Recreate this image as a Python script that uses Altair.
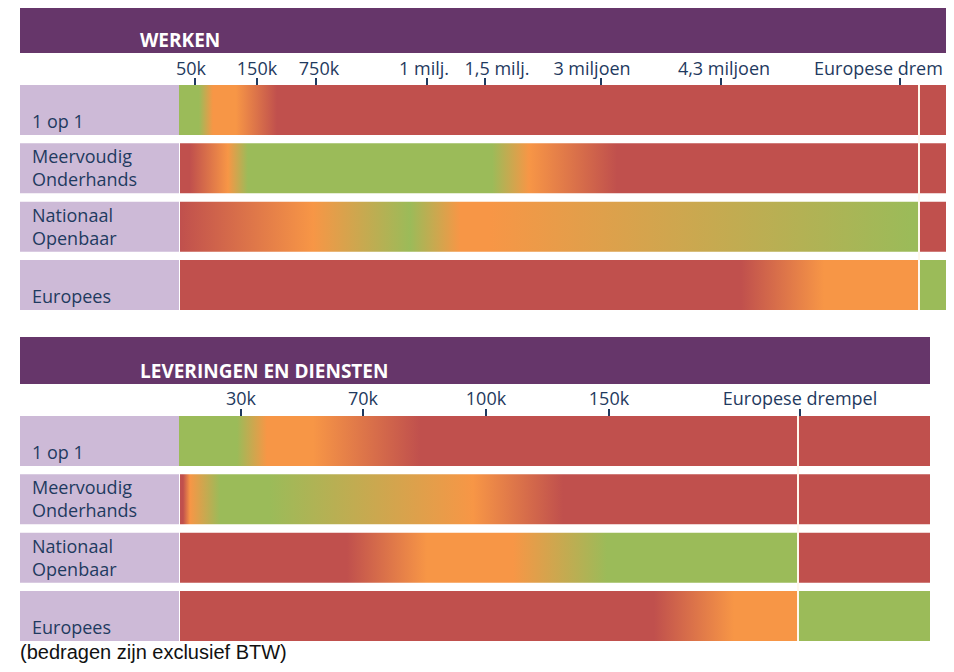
import altair as alt
import pandas as pd

# ---------------- data ----------------
ROWS = ["1 op 1", "Meervoudig Onderhands", "Nationaal Openbaar", "Europees"]
ROW_TEXT = ["\n1 op 1", "Meervoudig\nOnderhands", "Nationaal\nOpenbaar", "\nEuropees"]

RED, ORANGE, GREEN = "#C0504D", "#F79646", "#9BBB59"

# WERKEN panel (positions along the panel's position scale)
werken_title = "WERKEN"
werken_extent = [20, 179, 946]          # panel start, bar start, visible bar end
werken_ticks = [195, 257, 316, 427, 485, 601, 721, 900]
werken_tick_labels = ["50k", "150k", "750k", "1 milj.", "1,5 milj.",
                      "3 miljoen", "4,3 miljoen", "Europese drempel"]
werken_label_at = [191, 257, 319, 424, 497, 592, 724, 814]
werken_label_anchor = ["center"] * 7 + ["left"]
werken_threshold = 919
werken_pos = [
    [179, 199, 213, 236, 277, 946],
    [180, 190, 228, 248, 492, 529, 617, 946],
    [180, 313, 410, 460, 490, 913, 918, 918, 946],
    [180, 741, 824, 918, 918, 946],
]
werken_col = [
    [GREEN, GREEN, ORANGE, ORANGE, RED, RED],
    [RED, RED, ORANGE, GREEN, GREEN, ORANGE, RED, RED],
    [RED, ORANGE, GREEN, ORANGE, ORANGE, GREEN, GREEN, RED, RED],
    [RED, RED, ORANGE, ORANGE, GREEN, GREEN],
]

# LEVERINGEN EN DIENSTEN panel
ld_title = "LEVERINGEN EN DIENSTEN"
ld_extent = [20, 179, 930]
ld_ticks = [241, 363, 486, 609, 800]
ld_tick_labels = ["30k", "70k", "100k", "150k", "Europese drempel"]
ld_label_at = [241, 363, 486, 609, 800]
ld_label_anchor = ["center"] * 5
ld_threshold = 798
ld_pos = [
    [179, 237, 267, 313, 420, 930],
    [180, 183, 190, 220, 270, 473, 563, 930],
    [180, 347, 427, 513, 607, 798, 798, 930],
    [180, 654, 734, 798, 798, 930],
]
ld_col = [
    [GREEN, GREEN, ORANGE, ORANGE, RED, RED],
    [RED, RED, ORANGE, GREEN, GREEN, ORANGE, RED, RED],
    [RED, RED, ORANGE, ORANGE, GREEN, GREEN, RED, RED],
    [RED, RED, ORANGE, ORANGE, GREEN, GREEN],
]

footnote = "(bedragen zijn exclusief BTW)"

# ---------------- styles ----------------
PURPLE = "#66366A"
LILAC = "#CDBAD7"
NAVY = "#1F3A60"
FONT = "Open Sans"


def panel(title, extent, ticks, tick_labels, label_at, label_anchor, threshold,
          pos, col, width, header_top, tick_label_y, note=None):
    start, bar_start, end = extent
    xs = alt.Scale(domain=[start, end], nice=False, zero=False)
    ys = alt.Scale(domain=ROWS, paddingInner=0.1429, paddingOuter=0)
    X = lambda f: alt.X(f"{f}:Q", scale=xs, axis=None)
    Y = alt.Y("row:N", scale=ys, axis=None)

    head_df = pd.DataFrame({"x": [start], "x2": [end], "t": [title]})
    header = alt.Chart(head_df).mark_rect(color=PURPLE).encode(
        x=X("x"), x2="x2", y=alt.value(header_top), y2=alt.value(-32))
    header_txt = alt.Chart(head_df).mark_text(
        align="left", baseline="alphabetic", font=FONT, fontWeight="bold",
        fontSize=19, color="white").encode(
        x=alt.value(120), y=alt.value(-38), text="t:N")

    tick_df = pd.DataFrame({"x": ticks})
    tick_marks = alt.Chart(tick_df).mark_rule(color=NAVY, strokeWidth=2).encode(
        x=X("x"), y=alt.value(-7), y2=alt.value(0))

    layers = [header, header_txt, tick_marks]
    lab_df = pd.DataFrame({"x": label_at, "t": tick_labels, "a": label_anchor})
    for anchor in ["center", "left"]:
        sub = lab_df[lab_df["a"] == anchor]
        if len(sub) == 0:
            continue
        layers.append(alt.Chart(sub).mark_text(
            align=anchor, baseline="alphabetic", font=FONT, fontSize=18,
            color=NAVY, limit=(width + start - sub["x"].max()) if anchor == "left" else 0,
            ellipsis="\u200b").encode(
            x=X("x"), y=alt.value(tick_label_y), text="t:N"))

    box_df = pd.DataFrame({"row": ROWS, "x": [start] * 4, "x2": [bar_start] * 4,
                           "t": ROW_TEXT})
    boxes = alt.Chart(box_df).mark_rect(color=LILAC).encode(x=X("x"), x2="x2", y=Y)
    box_txt = alt.Chart(box_df).mark_text(
        align="left", baseline="alphabetic", dx=12, dy=-5, font=FONT, fontSize=18,
        color=NAVY, lineBreak="\n", lineHeight=23).encode(
        x=X("x"), y=Y, text="t:N")
    layers += [boxes, box_txt]

    for r, p, c in zip(ROWS, pos, col):
        lo, hi = p[0], p[-1]
        grad = alt.Gradient(
            gradient="linear", x1=0, x2=1, y1=0, y2=0,
            stops=[alt.GradientStop(offset=(v - lo) / (hi - lo), color=cc)
                   for v, cc in zip(p, c)])
        bar_df = pd.DataFrame({"row": [r], "x": [lo], "x2": [hi]})
        layers.append(alt.Chart(bar_df).mark_rect(fill=grad, strokeWidth=0).encode(
            x=X("x"), x2="x2", y=Y))

    thr_df = pd.DataFrame({"x": [threshold]})
    layers.append(alt.Chart(thr_df).mark_rule(color="#FFF8EC", strokeWidth=2).encode(
        x=X("x")))

    if note is not None:
        note_df = pd.DataFrame({"t": [note]})
        layers.append(alt.Chart(note_df).mark_text(
            align="left", baseline="alphabetic", font="Liberation Sans",
            fontSize=20, color="#111111").encode(
            x=alt.value(0), y=alt.value(243), text="t:N"))

    return alt.layer(*layers).properties(width=width, height=225)


top = panel(werken_title, werken_extent, werken_ticks, werken_tick_labels,
            werken_label_at, werken_label_anchor, werken_threshold, werken_pos,
            werken_col, width=926, header_top=-77, tick_label_y=-10)
bottom = panel(ld_title, ld_extent, ld_ticks, ld_tick_labels, ld_label_at,
               ld_label_anchor, ld_threshold, ld_pos, ld_col, width=910,
               header_top=-79, tick_label_y=-11, note=footnote)

chart = alt.vconcat(top, bottom, spacing=26).properties(
    padding={"left": 12, "top": 0, "right": 0, "bottom": 2},
    background="white",
).configure_view(stroke=None)

chart.save("out.html", embed_options={"renderer": "svg", "actions": False})
